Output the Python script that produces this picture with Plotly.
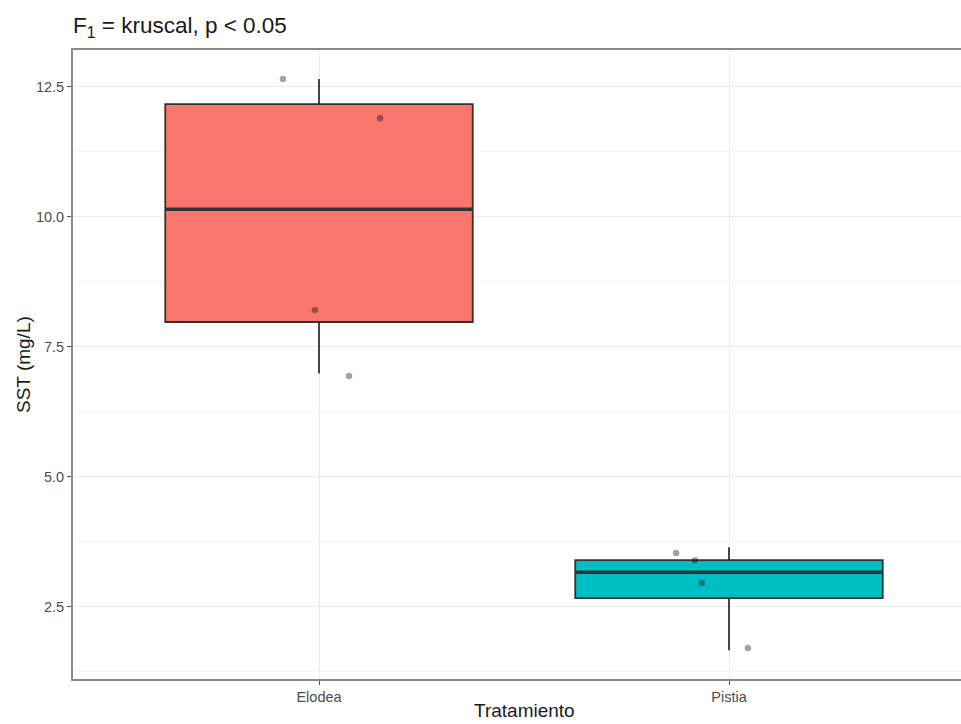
import plotly.graph_objects as go

# ---- data ----
categories = ["Elodea", "Pistia"]
cat_pos = [1, 2]
q1 = [7.98, 2.67]
median = [10.15, 3.17]
q3 = [12.17, 3.40]
lower_whisker = [6.99, 1.67]
upper_whisker = [12.65, 3.65]
fill_colors = ["#F8766D", "#00BFC4"]

# jittered observation points (category index, x-offset, value)
pts_cat = [1, 1, 1, 1, 2, 2, 2, 2]
pts_jitter = [-0.088, 0.149, -0.010, 0.073, -0.129, -0.083, -0.066, 0.046]
pts_val = [12.65, 11.90, 8.21, 6.94, 3.54, 3.40, 2.96, 1.71]

y_ticks = [2.5, 5.0, 7.5, 10.0, 12.5]
y_minor = [1.25, 3.75, 6.25, 8.75, 11.25]

box_width = 0.75
font_family = "Liberation Sans, Arial, sans-serif"

W, H = 961, 724
ML, MT, MB, MR = 73, 50, 45, 0
plot_h = H - MT - MB
plot_w = W - ML - MR

fig = go.Figure()

for i, cat in enumerate(categories):
    fig.add_trace(go.Box(
        x=[cat_pos[i]], q1=[q1[i]], median=[median[i]], q3=[q3[i]],
        lowerfence=[lower_whisker[i]], upperfence=[upper_whisker[i]],
        width=box_width, whiskerwidth=0,
        fillcolor=fill_colors[i],
        line=dict(color="#333333", width=1.8),
        boxpoints=False, showlegend=False, hoverinfo="skip",
    ))
    # thicker median line (ggplot fatten)
    fig.add_trace(go.Scatter(
        x=[cat_pos[i] - box_width / 2, cat_pos[i] + box_width / 2],
        y=[median[i], median[i]], mode="lines",
        line=dict(color="#333333", width=3.5),
        showlegend=False, hoverinfo="skip",
    ))

fig.add_trace(go.Scatter(
    x=[c + j for c, j in zip(pts_cat, pts_jitter)], y=pts_val,
    mode="markers",
    marker=dict(size=6.5, color="rgba(0,0,0,0.36)", line=dict(width=0)),
    showlegend=False, hoverinfo="skip",
))

fig.update_layout(
    width=W, height=H,
    margin=dict(l=ML, r=MR, t=MT, b=MB, autoexpand=False),
    paper_bgcolor="white", plot_bgcolor="white",
    font=dict(family=font_family, color="#000000"),
    title=dict(
        text="F<sub>1</sub> = kruscal, p < 0.05",
        x=ML / W, xanchor="left", xref="container",
        y=1 - 25 / H, yanchor="middle", yref="container",
        font=dict(size=22.5, color="#1a1a1a", family=font_family),
    ),
    xaxis=dict(
        range=[0.4, 1 + (W - 319) / 410], tickmode="array", tickvals=cat_pos,
        ticktext=categories,
        showgrid=True, gridcolor="#EBEBEB", gridwidth=1.3,
        zeroline=False,
        showline=True, linecolor="#8a8a8a", linewidth=1.8, mirror=True,
        ticks="outside", ticklen=4, tickcolor="#555555", tickwidth=1.3,
        tickfont=dict(size=14.5, color="#4D4D4D"),
    ),
    yaxis=dict(
        range=[1.115, 13.21], tickmode="array", tickvals=y_ticks,
        ticktext=[f"{v:.1f}" for v in y_ticks],
        showgrid=True, gridcolor="#EBEBEB", gridwidth=1.3,
        minor=dict(tickmode="array", tickvals=y_minor, showgrid=True,
                   gridcolor="#F3F3F3", gridwidth=1, ticks=""),
        zeroline=False,
        showline=True, linecolor="#8a8a8a", linewidth=1.8, mirror=False,
        ticks="outside", ticklen=4, tickcolor="#555555", tickwidth=1.3,
        tickfont=dict(size=14.5, color="#4D4D4D"),
    ),
    annotations=[
        dict(text="Tratamiento", x=(cat_pos[0] + cat_pos[1]) / 2, xref="x",
             y=(H - MB - 723) / plot_h, yref="paper", yanchor="bottom",
             xanchor="center", showarrow=False,
             font=dict(size=19, color="#1a1a1a", family=font_family)),
        dict(text="SST (mg/L)", textangle=-90,
             x=(23.5 - ML) / plot_w, xref="paper", xanchor="center",
             y=0.5, yref="paper", yanchor="middle", showarrow=False,
             font=dict(size=19, color="#1a1a1a", family=font_family)),
    ],
)

fig.write_html(
    "out.html",
    config={"displayModeBar": False},
    post_script="document.body.style.margin='0';document.body.style.overflow='hidden';",
)
